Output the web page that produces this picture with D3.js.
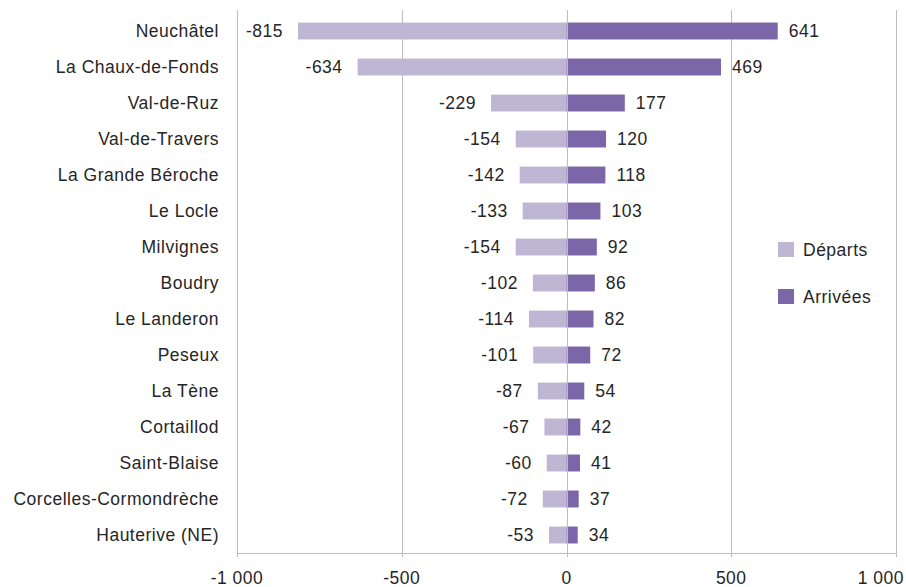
<!DOCTYPE html>
<html>
<head>
<meta charset="utf-8">
<script src="https://cdn.jsdelivr.net/npm/d3@7"></script>
<style>
  body { margin: 0; background: #fff; }
  svg { font-family: "Liberation Sans", Arial, sans-serif; letter-spacing: 0.5px; }
</style>
</head>
<body>
<svg class="main-svg" width="906" height="587"></svg>
<script>
var communes = ['Neuchâtel', 'La Chaux-de-Fonds', 'Val-de-Ruz', 'Val-de-Travers',
  'La Grande Béroche', 'Le Locle', 'Milvignes', 'Boudry', 'Le Landeron', 'Peseux',
  'La Tène', 'Cortaillod', 'Saint-Blaise', 'Corcelles-Cormondrèche', 'Hauterive (NE)'];
var departs = [-815, -634, -229, -154, -142, -133, -154, -102, -114, -101, -87, -67, -60, -72, -53];
var arrivees = [641, 469, 177, 120, 118, 103, 92, 86, 82, 72, 54, 42, 41, 37, 34];
var ticks = [-1000, -500, 0, 500, 1000];
var tickLabels = ['-1 000', '-500', '0', '500', '1 000'];
var seriesNames = ['Départs', 'Arrivées'];

var lightColour = '#bfb6d4',
    darkColour = '#7b66a7',
    gridColour = '#bdbdbd',
    textColour = '#262626',
    fontSize = 17.5;

var d3 = window.d3;
var svg = d3.select('.main-svg');

var x = d3.scaleLinear().domain([-1000, 1000]).range([237, 896]);
var y = d3.scaleBand().domain(communes).range([13, 553]).paddingInner(0.53).paddingOuter(0.265);

// vertical grid
svg.append('g').selectAll('line')
  .data(ticks.filter(t => t !== 0))
  .enter().append('line')
  .attr('x1', d => Math.round(x(d)) + 0.5).attr('x2', d => Math.round(x(d)) + 0.5)
  .attr('y1', 10).attr('y2', 557)
  .attr('stroke', gridColour).attr('stroke-width', 1);

// bars
svg.append('g').selectAll('rect')
  .data(departs)
  .enter().append('rect')
  .attr('x', d => x(d))
  .attr('y', (d, i) => y(communes[i]))
  .attr('width', d => x(0) - x(d))
  .attr('height', y.bandwidth())
  .attr('fill', lightColour);

svg.append('g').selectAll('rect')
  .data(arrivees)
  .enter().append('rect')
  .attr('x', x(0))
  .attr('y', (d, i) => y(communes[i]))
  .attr('width', d => x(d) - x(0))
  .attr('height', y.bandwidth())
  .attr('fill', darkColour);

// zero line over bars
svg.append('line')
  .attr('x1', Math.round(x(0)) + 0.5).attr('x2', Math.round(x(0)) + 0.5)
  .attr('y1', 10).attr('y2', 557)
  .attr('stroke', gridColour).attr('stroke-width', 1);

// bottom axis line
svg.append('line')
  .attr('x1', x(-1000)).attr('x2', x(1000))
  .attr('y1', 553.5).attr('y2', 553.5)
  .attr('stroke', gridColour).attr('stroke-width', 1);

// value labels
svg.append('g').selectAll('text')
  .data(departs)
  .enter().append('text')
  .attr('x', d => x(d) - 15)
  .attr('y', (d, i) => y(communes[i]) + y.bandwidth() / 2)
  .attr('dy', '0.36em')
  .attr('text-anchor', 'end')
  .attr('font-size', fontSize)
  .attr('fill', textColour)
  .text(d => d);

svg.append('g').selectAll('text')
  .data(arrivees)
  .enter().append('text')
  .attr('x', d => x(d) + 11)
  .attr('y', (d, i) => y(communes[i]) + y.bandwidth() / 2)
  .attr('dy', '0.36em')
  .attr('font-size', fontSize)
  .attr('fill', textColour)
  .text(d => d);

// category labels
svg.append('g').selectAll('text')
  .data(communes)
  .enter().append('text')
  .attr('x', 219)
  .attr('y', d => y(d) + y.bandwidth() / 2)
  .attr('dy', '0.36em')
  .attr('text-anchor', 'end')
  .attr('font-size', fontSize)
  .attr('fill', textColour)
  .text(d => d);

// tick labels, kept inside the picture
svg.append('g').selectAll('text')
  .data(ticks)
  .enter().append('text')
  .attr('x', d => x(d))
  .attr('y', 584)
  .attr('text-anchor', 'middle')
  .attr('font-size', fontSize)
  .attr('fill', textColour)
  .text((d, i) => tickLabels[i])
  .each(function () {
    var b = this.getBBox();
    if (b.x + b.width > 904) d3.select(this).attr('x', 904 - b.width / 2);
  });

// legend
var legend = svg.append('g').selectAll('g')
  .data(seriesNames)
  .enter().append('g')
  .attr('transform', (d, i) => 'translate(778,' + (242 + i * 47) + ')');
legend.append('rect')
  .attr('width', 16).attr('height', 15)
  .attr('fill', (d, i) => i === 0 ? lightColour : darkColour);
legend.append('text')
  .attr('x', 25).attr('y', 8)
  .attr('dy', '0.36em')
  .attr('font-size', fontSize)
  .attr('fill', textColour)
  .text(d => d);
</script>
</body>
</html>
